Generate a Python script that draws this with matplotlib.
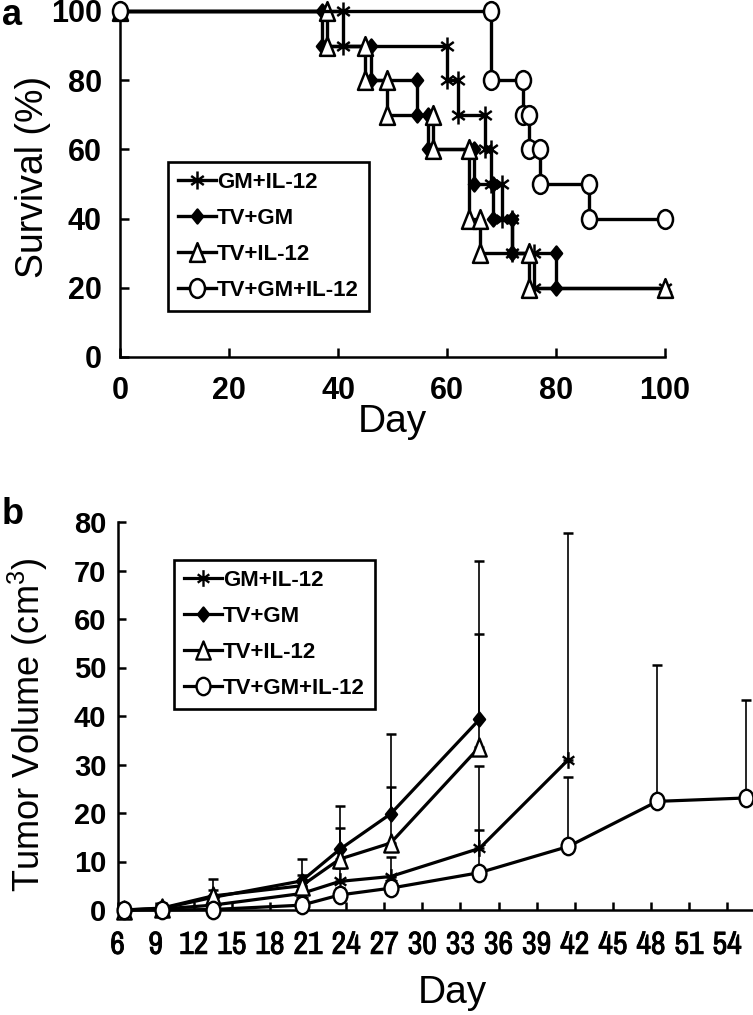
import numpy as np
import matplotlib
matplotlib.use("Agg")
import matplotlib.pyplot as plt
from matplotlib.path import Path
import matplotlib.patheffects as pe

# ---------------- data ----------------
series_names = ["GM+IL-12", "TV+GM", "TV+IL-12", "TV+GM+IL-12"]

# Panel a: Kaplan-Meier survival (event day, survival % after event)
gm_il12_days = [41, 60, 62, 67, 68, 70, 72, 76]
gm_il12_surv = [90, 80, 70, 60, 50, 40, 30, 20]
tv_gm_days = [37, 46, 54.5, 56.5, 65, 68.5, 72, 80]
tv_gm_surv = [90, 80, 70, 60, 50, 40, 30, 20]
tv_il12_days = [38, 45, 49, 57.5, 64, 66, 75]
tv_il12_surv = [90, 80, 70, 60, 40, 30, 20]
tv_gm_il12_days = [68, 74, 75, 77, 86]
tv_gm_il12_surv = [80, 70, 60, 50, 40]
follow_up_end = [100, 80, 100, 100]

# Panel b: tumor volume (cm3), mean and upper error
days_b = [6, 9, 13, 20, 23, 27, 34, 41, 48, 55]
gm_il12_vol = [0, 0.2, 1.0, 3.4, 5.9, 6.9, 12.7, 31.0]
gm_il12_err = [0, 0.8, 0.8, 1.5, 2.7, 4.1, 16.9, 46.8]
tv_gm_vol = [0, 0.3, 2.6, 6.0, 12.5, 19.8, 39.3]
tv_gm_err = [0, 1.0, 1.5, 4.5, 9.0, 16.4, 32.7]
tv_il12_vol = [0, 0.4, 2.9, 5.0, 10.5, 13.8, 33.6]
tv_il12_err = [0, 1.0, 3.4, 2.2, 6.4, 11.5, 23.4]
tv_gm_il12_vol = [0, 0, 0.1, 1.0, 3.1, 4.5, 7.7, 13.1, 22.4, 23.1]
tv_gm_il12_err = [0, 0.3, 0.3, 0.8, 1.5, 2.5, 8.8, 14.4, 28.2, 20.2]

xticks_a = [0, 20, 40, 60, 80, 100]
yticks_a = [0, 20, 40, 60, 80, 100]
xtick_days_b = [6, 9, 12, 15, 18, 21, 24, 27, 30, 33, 36, 39, 42, 45, 48, 51, 54]
yticks_b = [0, 10, 20, 30, 40, 50, 60, 70, 80]

# ---------------- markers ----------------
def ellipse_marker(wr):
    c = Path.unit_circle()
    return Path(c.vertices * np.array([wr, 1.0]), c.codes)

def tri_marker(wr):
    return Path([(-0.5 * wr, -0.5), (0.5 * wr, -0.5), (0, 0.5), (-0.5 * wr, -0.5)],
                [Path.MOVETO, Path.LINETO, Path.LINETO, Path.CLOSEPOLY])

def diamond_marker(wr):
    return Path([(0, -0.5), (0.5 * wr, 0), (0, 0.5), (-0.5 * wr, 0), (0, -0.5)],
                [Path.MOVETO, Path.LINETO, Path.LINETO, Path.LINETO, Path.CLOSEPOLY])

def asterisk_marker(wr):
    dx = 0.5 * wr * 0.87
    dy = 0.5 * 0.5
    v = [(0, -0.5), (0, 0.5), (-dx, -dy), (dx, dy), (-dx, dy), (dx, -dy)]
    cds = [Path.MOVETO, Path.LINETO] * 3
    return Path(v, cds)

WR = 0.8
styles = [
    dict(marker=asterisk_marker(WR), mfc="none", mec="black", ms_a=13, ms_b=12),
    dict(marker=diamond_marker(WR), mfc="black", mec="black", ms_a=10, ms_b=10),
    dict(marker=tri_marker(WR), mfc="white", mec="black", ms_a=13.5, ms_b=13),
    dict(marker=ellipse_marker(WR), mfc="white", mec="black", ms_a=13.5, ms_b=12.5),
]

W, H = 753, 1015
fig = plt.figure(figsize=(W / 100, H / 100), dpi=100)

FONT = ["Liberation Sans", "DejaVu Sans"]
NARROW = ["Archivo Narrow", "Liberation Sans", "DejaVu Sans"]
plt.rcParams["font.family"] = FONT
plt.rcParams["mathtext.fontset"] = "custom"
plt.rcParams["mathtext.rm"] = "Liberation Sans"
plt.rcParams["mathtext.it"] = "Liberation Sans"

# ---------------- panel a ----------------
axa = fig.add_axes([120 / W, 1 - 357 / H, 545 / W, 346 / H])

def km_path(days, surv, end):
    xs, ys, prev = [0], [100], 100
    for d, s in zip(days, surv):
        xs += [d, d]
        ys += [prev, s]
        prev = s
    if end > days[-1]:
        xs.append(end)
        ys.append(prev)
    return xs, ys

km_data = [(gm_il12_days, gm_il12_surv), (tv_gm_days, tv_gm_surv),
           (tv_il12_days, tv_il12_surv), (tv_gm_il12_days, tv_gm_il12_surv)]
handles_a = []
for i, ((d, s), st) in enumerate(zip(km_data, styles)):
    xs, ys = km_path(d, s, follow_up_end[i])
    ln, = axa.plot(xs, ys, color="black", lw=2.4, marker=st["marker"], ms=st["ms_a"],
                   mfc=st["mfc"], mec=st["mec"], mew=1.8, clip_on=False, zorder=3 + i,
                   label=series_names[i])
    handles_a.append(ln)

axa.set_xlim(0, 100)
axa.set_ylim(0, 100)
axa.set_xticks(xticks_a)
axa.set_yticks(yticks_a)

# ---------------- panel b ----------------
axb = fig.add_axes([117.5 / W, 1 - 910 / H, 635 / W, 388 / H])
vols = [(gm_il12_vol, gm_il12_err), (tv_gm_vol, tv_gm_err),
        (tv_il12_vol, tv_il12_err), (tv_gm_il12_vol, tv_gm_il12_err)]
handles_b = []
for i, ((v, e), st) in enumerate(zip(vols, styles)):
    dd = days_b[:len(v)]
    axb.errorbar(dd, v, yerr=[np.zeros(len(e)), e], fmt="none", ecolor="black",
                 elinewidth=1.2, capsize=3.5, capthick=1.8, clip_on=False, zorder=2)
    ln, = axb.plot(dd, v, color="black", lw=2.3, marker=st["marker"], ms=st["ms_b"],
                   mfc=st["mfc"], mec=st["mec"], mew=1.7, clip_on=False, zorder=3 + i,
                   label=series_names[i])
    handles_b.append(ln)

axb.set_xlim(5.5, 55.5)
axb.set_ylim(0, 80)
axb.set_xticks([d - 0.5 for d in xtick_days_b])
axb.set_xticklabels([str(d) for d in xtick_days_b])
axb.set_yticks(yticks_b)

# ---------------- axes styling ----------------
for ax in (axa, axb):
    for sp in ("top", "right"):
        ax.spines[sp].set_visible(False)
    for sp in ("left", "bottom"):
        ax.spines[sp].set_linewidth(1.8)
    ax.set_facecolor("none")

axa.tick_params(axis="both", direction="in", length=6.5, width=1.8, labelsize=22)
axa.tick_params(axis="y", pad=13)
axa.tick_params(axis="x", pad=14)
for lab in axa.get_xticklabels() + axa.get_yticklabels():
    lab.set_fontweight("bold")

axb.tick_params(axis="both", direction="in", length=5.5, width=1.8)
axb.tick_params(axis="y", pad=8, labelsize=21)
axb.tick_params(axis="x", pad=15, labelsize=23)
for lab in axb.get_yticklabels():
    lab.set_fontweight("bold")
for lab in axb.get_xticklabels():
    lab.set_fontweight("bold")
    lab.set_family(NARROW)
    lab.set_path_effects([pe.withStroke(linewidth=0.6, foreground="black")])

# ---------------- labels ----------------
def px(x, y):
    return x / W, 1 - y / H

fig.text(*px(392, 432), "Day", fontsize=28, ha="center", va="baseline")
fig.text(*px(452, 1003), "Day", fontsize=28, ha="center", va="baseline")
fig.text(*px(43, 177), "Survival (%)", fontsize=27, rotation=90, rotation_mode="anchor",
         ha="center", va="baseline")
fig.text(*px(40, 725), r"Tumor Volume (cm$^{3}$)", fontsize=26, rotation=90,
         rotation_mode="anchor", ha="center", va="baseline")
fig.text(*px(2, 25), "a", fontsize=26, fontweight="bold", ha="left", va="baseline")
fig.text(*px(2, 524), "b", fontsize=26, fontweight="bold", ha="left", va="baseline")

# ---------------- legends ----------------
def make_legend(handles, x0, y0, fs):
    lg = fig.legend(handles=handles, loc="upper left",
                    bbox_to_anchor=(x0 / W, 1 - y0 / H),
                    bbox_transform=fig.transFigure,
                    prop=dict(family=FONT, weight="bold", size=fs),
                    frameon=True, fancybox=False, shadow=False, framealpha=1,
                    edgecolor="black", borderpad=0.46, labelspacing=0.67,
                    handlelength=1.7, handletextpad=0.05, borderaxespad=0,
                    numpoints=1)
    lg.get_frame().set_linewidth(1.9)
    return lg

make_legend(handles_a, 168, 162, 16)
make_legend(handles_b, 174, 560, 16)

fig.savefig("out.png", dpi=100)
